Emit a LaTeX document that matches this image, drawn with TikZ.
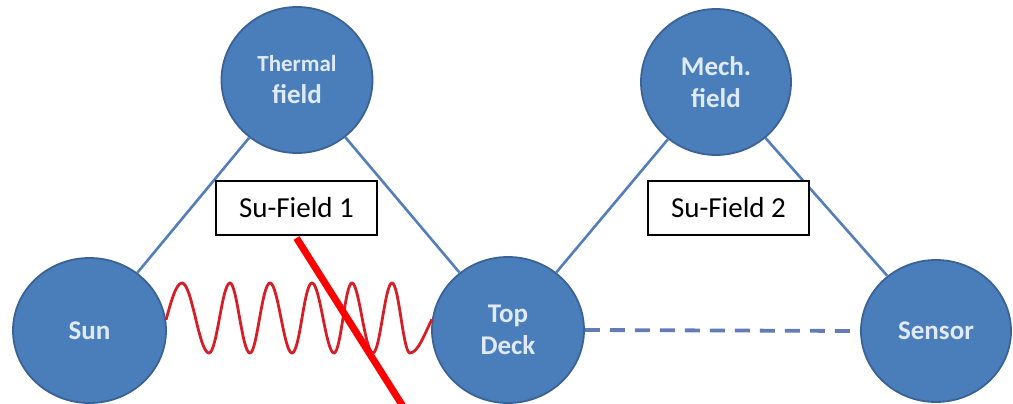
\documentclass[tikz,border=0pt]{standalone}
\usepackage{fontspec}
\setmainfont{Carlito}
\usetikzlibrary{shapes.geometric}
\definecolor{circfill}{RGB}{74,126,187}
\definecolor{circdraw}{RGB}{58,98,150}
\definecolor{circtext}{RGB}{224,234,246}
\definecolor{linkblue}{RGB}{84,126,186}
\definecolor{dashblue}{RGB}{100,124,182}
\definecolor{wavered}{RGB}{214,30,38}
\tikzset{
  fieldnode/.style={ellipse, draw=circdraw, line width=1.8pt, fill=circfill,
    text=circtext, align=center, inner sep=0pt,
    font=\bfseries\fontsize{27}{32}\selectfont},
  labelbox/.style={draw=black, line width=2pt, fill=white, minimum width=161pt,
    minimum height=54pt, inner sep=0pt, font=\fontsize{29}{32}\selectfont},
  link/.style={draw=linkblue, line width=2.6pt},
  dashlink/.style={draw=dashblue, line width=3.8pt, dash pattern=on 15pt off 10pt},
  wave/.style={draw=wavered, line width=2.8pt},
  cross/.style={draw=red, line width=7pt}
}
\begin{document}
\begin{tikzpicture}[x=1pt,y=-1pt]
\useasboundingbox (0,0) rectangle (1013,404);
\fill[white] (0,0) rectangle (1013,404);
% circles
\node[fieldnode, minimum width=153pt, minimum height=145pt] (sun) at (89.5,330.5) {Sun};
\node[fieldnode, minimum width=151pt, minimum height=146pt] (thermal) at (297,80)
  {{\fontsize{23}{32}\selectfont Thermal}\\field};
\node[fieldnode, minimum width=152pt, minimum height=146pt] (deck) at (508,330) {Top\\Deck};
\node[fieldnode, minimum width=150pt, minimum height=146pt] (mech) at (716,82) {Mech.\\field};
\node[fieldnode, minimum width=150pt, minimum height=142pt] (sensor) at (936,331) {Sensor};
% connectors
\draw[link] (sun) -- (thermal);
\draw[link] (thermal) -- (deck);
\draw[link] (deck) -- (mech);
\draw[link] (mech) -- (sensor);
\draw[dashlink] (deck.east) -- (sensor.west);
% wave between Sun and Top Deck
\draw[wave] (sun.8) .. controls (171,302) and (176,283) .. (182,283)
  .. controls (192,283) and (199,353) .. (209,353)
  .. controls (217,353) and (222,283) .. (230,283)
  .. controls (237,283) and (242,353) .. (250,353)
  .. controls (257,353) and (262,283) .. (270,283)
  .. controls (278,283) and (284,353) .. (292,353)
  .. controls (300,353) and (304,283) .. (312,283)
  .. controls (320,283) and (326,353) .. (334,353)
  .. controls (341,353) and (345,283) .. (352,283)
  .. controls (359,283) and (365,353) .. (373,353)
  .. controls (380,353) and (385,283) .. (392,283)
  .. controls (399,283) and (403,353) .. (410,353)
  .. controls (418,353) and (425,333) .. (deck.172);
% label boxes
\node[labelbox] (sf1) at (296.5,208) {Su-Field 1};
\node[labelbox] (sf2) at (728.5,207.5) {Su-Field 2};
% red cross-out line
\coordinate (crossend) at (404,408);
\draw[cross] (sf1.south) ++(0,2) -- (crossend);
\end{tikzpicture}
\end{document}
